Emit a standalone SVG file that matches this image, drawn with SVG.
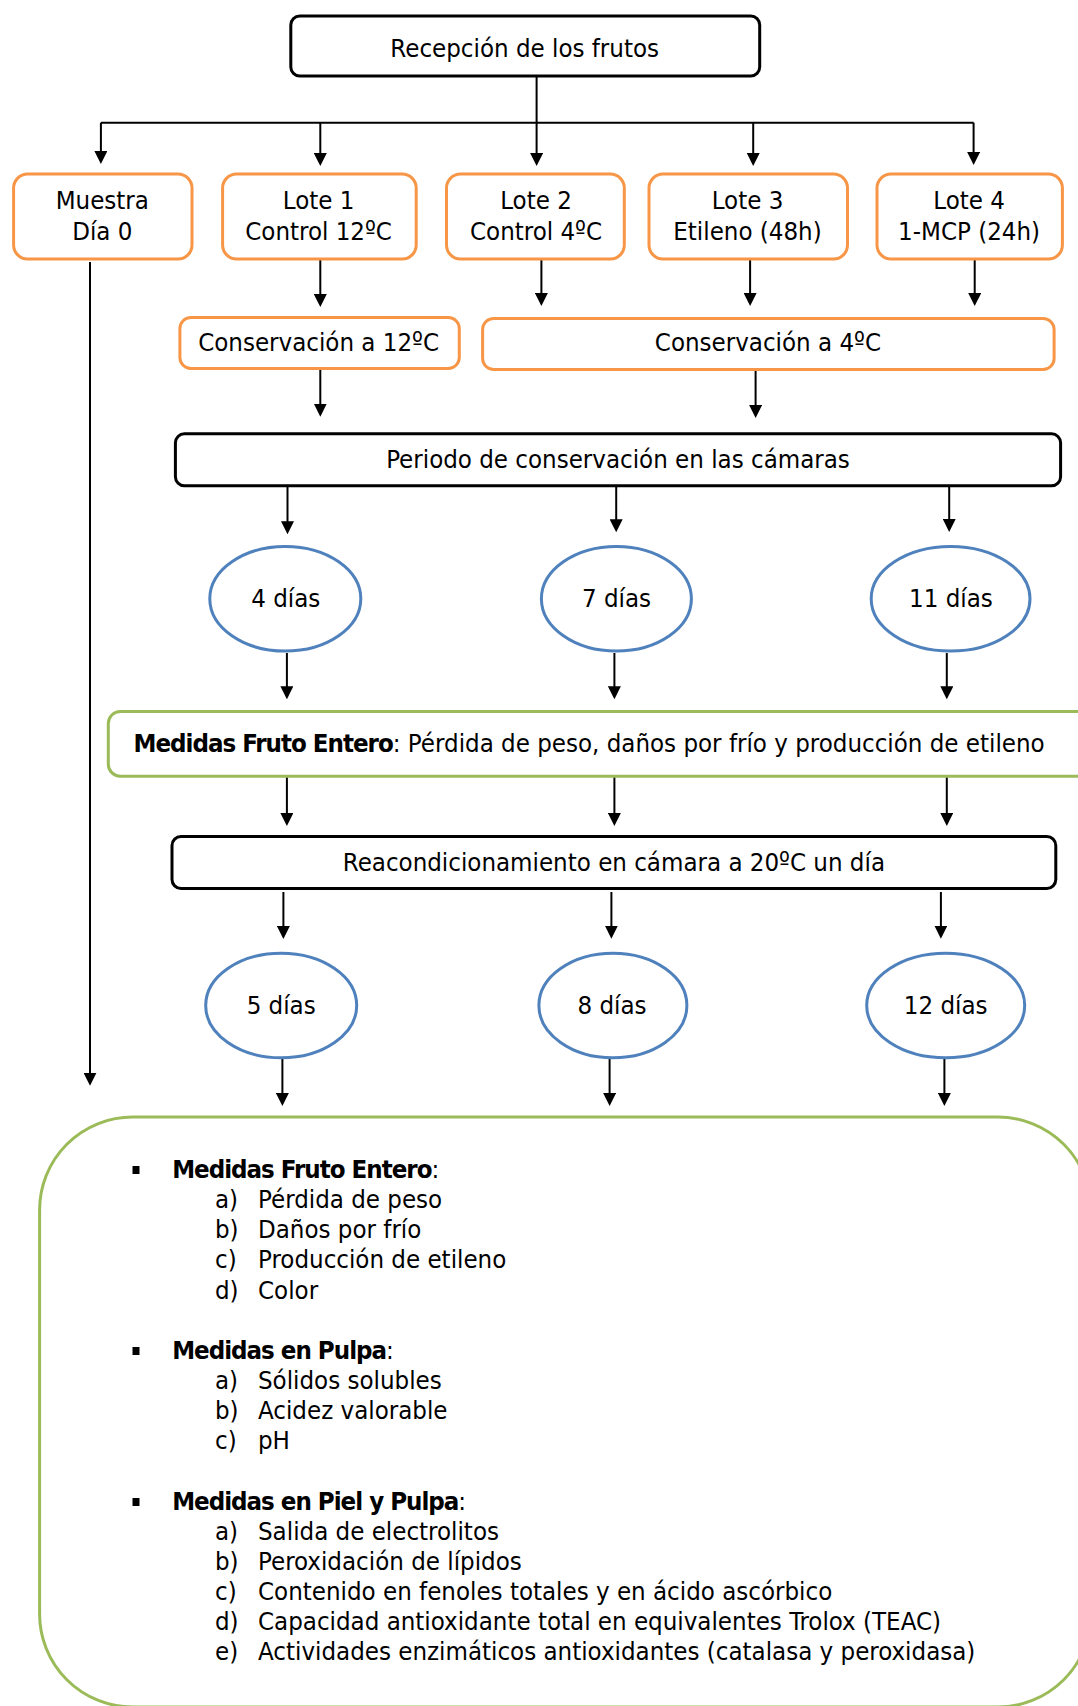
<svg xmlns="http://www.w3.org/2000/svg" width="1078" height="1706" viewBox="0 0 1078 1706">
  <style>
    text { font-family: "DejaVu Sans Condensed", "DejaVu Sans", sans-serif; font-stretch: condensed; font-size: 25.6px; fill: #000; }
    .c { text-anchor: middle; }
    .b { font-weight: bold; letter-spacing: -1px; }
    .box { fill: #fff; stroke: #000; stroke-width: 3; }
    .lote { fill: #fff; stroke: #F79646; stroke-width: 3; }
    .day { fill: #fff; stroke: #4F81BD; stroke-width: 3; }
    .meas { fill: #fff; stroke: #9BBB59; stroke-width: 3; }
    .link { fill: none; stroke: #000; stroke-width: 2; }
    .arr { marker-end: url(#head); }
  </style>
  <defs>
    <marker id="head" viewBox="0 0 13 13" markerWidth="13" markerHeight="13" markerUnits="userSpaceOnUse" refX="2" refY="6.5" orient="auto">
      <path d="M0,0 L13,6.5 L0,13 Z" fill="#000"/>
    </marker>
  </defs>

  <rect width="1078" height="1706" fill="#fff"/>

  <!-- summary of measurements (drawn first, lies under the incoming arrows) -->
  <g id="n-resumen">
    <rect class="meas" x="39.6" y="1117" width="1051.4" height="590" rx="93"/>
    <rect x="132.5" y="1166" width="7" height="8" fill="#000"/>
    <text x="172.2" y="1178"><tspan class="b">Medidas Fruto Entero</tspan>:</text>
    <text x="215" y="1208">a)</text><text x="258" y="1208">Pérdida de peso</text>
    <text x="215" y="1238">b)</text><text x="258" y="1238">Daños por frío</text>
    <text x="215" y="1268">c)</text><text x="258" y="1268">Producción de etileno</text>
    <text x="215" y="1299">d)</text><text x="258" y="1299">Color</text>
    <rect x="132.5" y="1347" width="7" height="8" fill="#000"/>
    <text x="172.2" y="1359"><tspan class="b">Medidas en Pulpa</tspan>:</text>
    <text x="215" y="1389">a)</text><text x="258" y="1389">Sólidos solubles</text>
    <text x="215" y="1419">b)</text><text x="258" y="1419">Acidez valorable</text>
    <text x="215" y="1449">c)</text><text x="258" y="1449">pH</text>
    <rect x="132.5" y="1498" width="7" height="8" fill="#000"/>
    <text x="172.2" y="1510"><tspan class="b">Medidas en Piel y Pulpa</tspan>:</text>
    <text x="215" y="1540">a)</text><text x="258" y="1540">Salida de electrolitos</text>
    <text x="215" y="1570">b)</text><text x="258" y="1570">Peroxidación de lípidos</text>
    <text x="215" y="1600">c)</text><text x="258" y="1600">Contenido en fenoles totales y en ácido ascórbico</text>
    <text x="215" y="1630">d)</text><text x="258" y="1630">Capacidad antioxidante total en equivalentes Trolox (TEAC)</text>
    <text x="215" y="1660">e)</text><text x="258" y="1660">Actividades enzimáticos antioxidantes (catalasa y peroxidasa)</text>
  </g>

  <!-- connectors -->
  <g id="connectors">
    <path class="link" d="M536.6,77 V122.7 M100.9,122.7 H973.6"/>
    <path class="link arr" d="M100.9,122.7 V153"/>
    <path class="link arr" d="M320.3,122.7 V155"/>
    <path class="link arr" d="M536.6,122.7 V155"/>
    <path class="link arr" d="M753.2,122.7 V155"/>
    <path class="link arr" d="M973.6,122.7 V154"/>

    <path class="link arr" d="M320.3,260 V296"/>
    <path class="link arr" d="M541.4,260 V295"/>
    <path class="link arr" d="M750.1,260 V295"/>
    <path class="link arr" d="M974.7,260 V295"/>

    <path class="link arr" d="M320.3,370 V405.7"/>
    <path class="link arr" d="M755.6,371 V407"/>

    <path class="link arr" d="M287.5,487 V523.3"/>
    <path class="link arr" d="M616.2,487 V521.3"/>
    <path class="link arr" d="M949.2,487 V521"/>

    <path class="link arr" d="M286.9,653 V688.3"/>
    <path class="link arr" d="M614.4,653 V688.3"/>
    <path class="link arr" d="M946.8,653 V688.3"/>

    <path class="link arr" d="M286.9,777 V815"/>
    <path class="link arr" d="M614.4,777 V815"/>
    <path class="link arr" d="M946.8,777 V815"/>

    <path class="link arr" d="M283.4,892 V928"/>
    <path class="link arr" d="M611.4,892 V927.7"/>
    <path class="link arr" d="M940.9,892 V927.7"/>

    <path class="link arr" d="M282.4,1059 V1095"/>
    <path class="link arr" d="M609.6,1059 V1095"/>
    <path class="link arr" d="M944.4,1059 V1095"/>

    <path class="link arr" d="M90,262 V1074.7"/>
  </g>

  <g id="n-recepcion">
    <rect class="box" x="290.8" y="16" width="468.9" height="60" rx="9"/>
    <text class="c" x="524.7" y="57">Recepción de los frutos</text>
  </g>

  <g id="n-muestra">
    <rect class="lote" x="13.6" y="174" width="178.4" height="85" rx="14"/>
    <text class="c" x="102.3" y="209">Muestra</text>
    <text class="c" x="102.3" y="240">Día 0</text>
  </g>
  <g id="n-lote1">
    <rect class="lote" x="222.6" y="174" width="193.6" height="85" rx="14"/>
    <text class="c" x="318.6" y="209">Lote 1</text>
    <text class="c" x="318.6" y="240">Control 12ºC</text>
  </g>
  <g id="n-lote2">
    <rect class="lote" x="446.5" y="174" width="177.8" height="85" rx="14"/>
    <text class="c" x="536" y="209">Lote 2</text>
    <text class="c" x="536" y="240">Control 4ºC</text>
  </g>
  <g id="n-lote3">
    <rect class="lote" x="649" y="174" width="198.5" height="85" rx="14"/>
    <text class="c" x="747.5" y="209">Lote 3</text>
    <text class="c" x="747.5" y="240">Etileno (48h)</text>
  </g>
  <g id="n-lote4">
    <rect class="lote" x="877" y="174" width="185.4" height="85" rx="14"/>
    <text class="c" x="969.1" y="209">Lote 4</text>
    <text class="c" x="969.1" y="240">1-MCP (24h)</text>
  </g>

  <g id="n-cons12">
    <rect class="lote" x="179.9" y="317.5" width="279.4" height="51" rx="11"/>
    <text class="c" x="318.6" y="351">Conservación a 12ºC</text>
  </g>
  <g id="n-cons4">
    <rect class="lote" x="482.6" y="318.5" width="571.5" height="51" rx="11"/>
    <text class="c" x="767.9" y="351">Conservación a 4ºC</text>
  </g>

  <g id="n-periodo">
    <rect class="box" x="175.4" y="433.8" width="885.2" height="52" rx="9"/>
    <text class="c" x="618" y="468">Periodo de conservación en las cámaras</text>
  </g>

  <g id="n-dia4">
    <ellipse class="day" cx="285.3" cy="598.8" rx="75.5" ry="52.3"/>
    <text class="c" x="285.8" y="607">4 días</text>
  </g>
  <g id="n-dia7">
    <ellipse class="day" cx="616.4" cy="598.8" rx="75" ry="52.3"/>
    <text class="c" x="616.5" y="607">7 días</text>
  </g>
  <g id="n-dia11">
    <ellipse class="day" cx="950.6" cy="598.8" rx="79.4" ry="52.3"/>
    <text class="c" x="950.9" y="607">11 días</text>
  </g>

  <g id="n-medidas">
    <rect class="meas" x="108.3" y="711.5" width="1000" height="64.7" rx="12"/>
    <text x="133.5" y="751.7"><tspan class="b">Medidas Fruto Entero</tspan>: Pérdida de peso, daños por frío y producción de etileno</text>
  </g>

  <g id="n-reacond">
    <rect class="box" x="172" y="836.5" width="883.8" height="52" rx="9"/>
    <text class="c" x="613.9" y="870.7">Reacondicionamiento en cámara a 20ºC un día</text>
  </g>

  <g id="n-dia5">
    <ellipse class="day" cx="281.2" cy="1005.5" rx="75.5" ry="52.3"/>
    <text class="c" x="281.2" y="1014">5 días</text>
  </g>
  <g id="n-dia8">
    <ellipse class="day" cx="612.9" cy="1005.5" rx="74" ry="52.3"/>
    <text class="c" x="612" y="1014">8 días</text>
  </g>
  <g id="n-dia12">
    <ellipse class="day" cx="945.7" cy="1005.5" rx="79" ry="52.3"/>
    <text class="c" x="945.7" y="1014">12 días</text>
  </g>
</svg>
